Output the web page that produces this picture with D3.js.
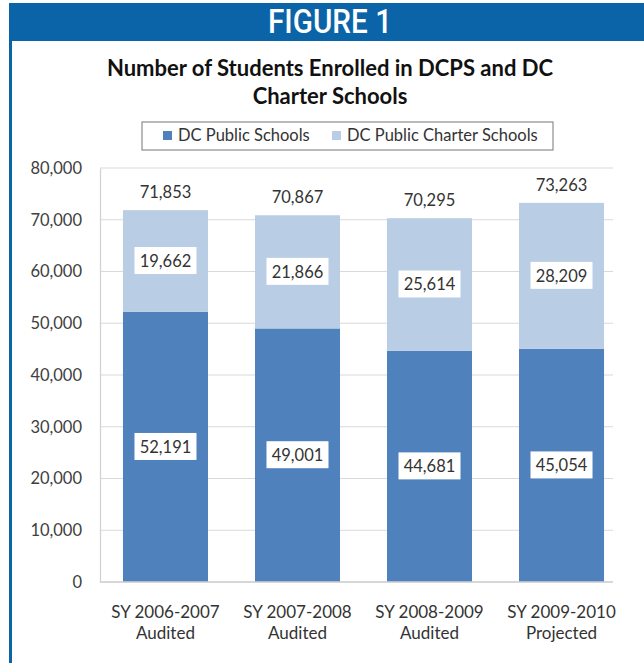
<!DOCTYPE html>
<html>
<head>
<meta charset="utf-8">
<script src="https://cdn.jsdelivr.net/npm/d3@7"></script>
<style>
  body { margin: 0; background: #fff; }
  text { font-family: Lato, "Open Sans", sans-serif; }
</style>
</head>
<body>
<svg id="chart" width="644" height="663"></svg>
<script>
// data
var years = ["SY 2006-2007", "SY 2007-2008", "SY 2008-2009", "SY 2009-2010"];
var yearStatus = ["Audited", "Audited", "Audited", "Projected"];
var publicSchools = [52191, 49001, 44681, 45054];
var charterSchools = [19662, 21866, 25614, 28209];
var totals = [71853, 70867, 70295, 73263];
var seriesNames = ["DC Public Schools", "DC Public Charter Schools"];
var yTicks = [0, 10000, 20000, 30000, 40000, 50000, 60000, 70000, 80000];

function init(){

  var svg = d3.select("#chart");
  var color = d3.scaleOrdinal().domain(seriesNames).range(["#4f81bd", "#b9cde5"]);
  var fmt = d3.format(",");

  // plot area
  var plot = {left: 100, right: 613, top: 168, bottom: 582};

  // header band + left border
  svg.append("rect")
    .attr("x", 9).attr("y", 3)
    .attr("width", 635).attr("height", 38)
    .attr("fill", "#0b64a8");
  svg.append("rect")
    .attr("x", 9).attr("y", 41)
    .attr("width", 3).attr("height", 622)
    .attr("fill", "#0b64a8");

  svg.append("text")
    .attr("x", 330).attr("y", 33)
    .attr("text-anchor", "middle")
    .attr("fill", "#fff")
    .attr("textLength", 124)
    .attr("lengthAdjust", "spacingAndGlyphs")
    .style("font", "500 34px Roboto, sans-serif")
    .text("FIGURE 1");

  // title
  var title = svg.append("text")
    .attr("text-anchor", "middle")
    .attr("fill", "#111")
    .style("font-weight", "bold")
    .style("font-size", "22px");
  title.append("tspan").attr("x", 330).attr("y", 76).text("Number of Students Enrolled in DCPS and DC");
  title.append("tspan").attr("x", 330).attr("y", 104).text("Charter Schools");

  // scales
  var x = d3.scaleBand()
    .domain(years)
    .range([plot.left, 627])
    .paddingInner(0.356)
    .paddingOuter(0.174);

  var y = d3.scaleLinear()
    .domain([0, 80000])
    .range([plot.bottom, plot.top]);

  // gridlines
  svg.append("g")
    .selectAll("line")
    .data(yTicks)
    .enter().append("line")
      .attr("x1", plot.left).attr("x2", plot.right)
      .attr("y1", function(d){ return y(d); })
      .attr("y2", function(d){ return y(d); })
      .attr("stroke", "#d9d9d9")
      .attr("stroke-width", 1.2);

  // y axis
  var yAxis = svg.append("g")
    .attr("transform", "translate(" + plot.left + ",0)")
    .call(d3.axisLeft(y).tickValues(yTicks).tickFormat(fmt).tickSize(0).tickPadding(18));
  yAxis.select(".domain").attr("stroke", "#d0d0d0").attr("stroke-width", 1.2);
  yAxis.selectAll("text")
    .attr("fill", "#404040")
    .style("font-family", "Lato, sans-serif")
    .style("font-size", "16.5px");

  // stacked bars
  var rows = years.map(function(d, i){
    return {year: d, "DC Public Schools": publicSchools[i], "DC Public Charter Schools": charterSchools[i]};
  });
  var stackedData = d3.stack().keys(seriesNames)(rows);

  var groups = svg.append("g")
    .selectAll("g")
    .data(stackedData)
    .enter().append("g")
      .attr("fill", function(d){ return color(d.key); });

  groups.selectAll("rect")
    .data(function(d){ return d; })
    .enter().append("rect")
      .attr("x", function(d){ return x(d.data.year); })
      .attr("y", function(d){ return y(d[1]); })
      .attr("width", x.bandwidth())
      .attr("height", function(d){ return y(d[0]) - y(d[1]); });

  // bottom axis line
  svg.append("line")
    .attr("x1", plot.left).attr("x2", plot.right)
    .attr("y1", y(0)).attr("y2", y(0))
    .attr("stroke", "#d0d0d0")
    .attr("stroke-width", 1.5);

  // segment labels in white boxes
  var labels = svg.append("g")
    .selectAll("g")
    .data(stackedData)
    .enter().append("g")
    .selectAll("g")
    .data(function(d){ return d; })
    .enter().append("g")
      .attr("transform", function(d){
        return "translate(" + (x(d.data.year) + x.bandwidth() / 2) + "," + y((d[0] + d[1]) / 2) + ")";
      });

  labels.append("rect")
    .attr("x", -31).attr("y", -14)
    .attr("width", 62).attr("height", 27)
    .attr("fill", "#fff");

  labels.append("text")
    .attr("text-anchor", "middle")
    .attr("dy", "0.35em")
    .attr("fill", "#333")
    .style("font-size", "16.5px")
    .text(function(d){ return fmt(d[1] - d[0]); });

  // totals above bars
  svg.append("g")
    .selectAll("text")
    .data(totals)
    .enter().append("text")
      .attr("x", function(d, i){ return x(years[i]) + x.bandwidth() / 2; })
      .attr("y", function(d){ return y(d) - 12; })
      .attr("text-anchor", "middle")
      .attr("fill", "#333")
      .style("font-size", "16.5px")
      .text(function(d){ return fmt(d); });

  // category labels (two lines)
  var cat = svg.append("g")
    .selectAll("text")
    .data(years)
    .enter().append("text")
      .attr("text-anchor", "middle")
      .attr("fill", "#333")
      .style("font-size", "17px");
  cat.append("tspan")
    .attr("x", function(d){ return x(d) + x.bandwidth() / 2; })
    .attr("y", 618)
    .text(function(d){ return d; });
  cat.append("tspan")
    .attr("x", function(d){ return x(d) + x.bandwidth() / 2; })
    .attr("y", 639)
    .text(function(d){ return yearStatus[years.indexOf(d)]; });

  // legend
  svg.append("rect")
    .attr("x", 142).attr("y", 122)
    .attr("width", 411).attr("height", 28)
    .attr("fill", "#fff")
    .attr("stroke", "#8c8c8c")
    .attr("stroke-width", 1.2);

  var legendX = [163, 332];
  var legend = svg.selectAll(".legend")
    .data(seriesNames)
    .enter().append("g")
      .attr("class", "legend")
      .attr("transform", function(d, i){ return "translate(" + legendX[i] + ",131)"; });

  legend.append("rect")
    .attr("width", 9).attr("height", 9)
    .attr("fill", function(d){ return color(d); });

  legend.append("text")
    .attr("x", 15)
    .attr("y", 10)
    .attr("fill", "#333")
    .style("font-size", "16.5px")
    .text(function(d){ return d; });
}

window.onload = init;
</script>
</body>
</html>
